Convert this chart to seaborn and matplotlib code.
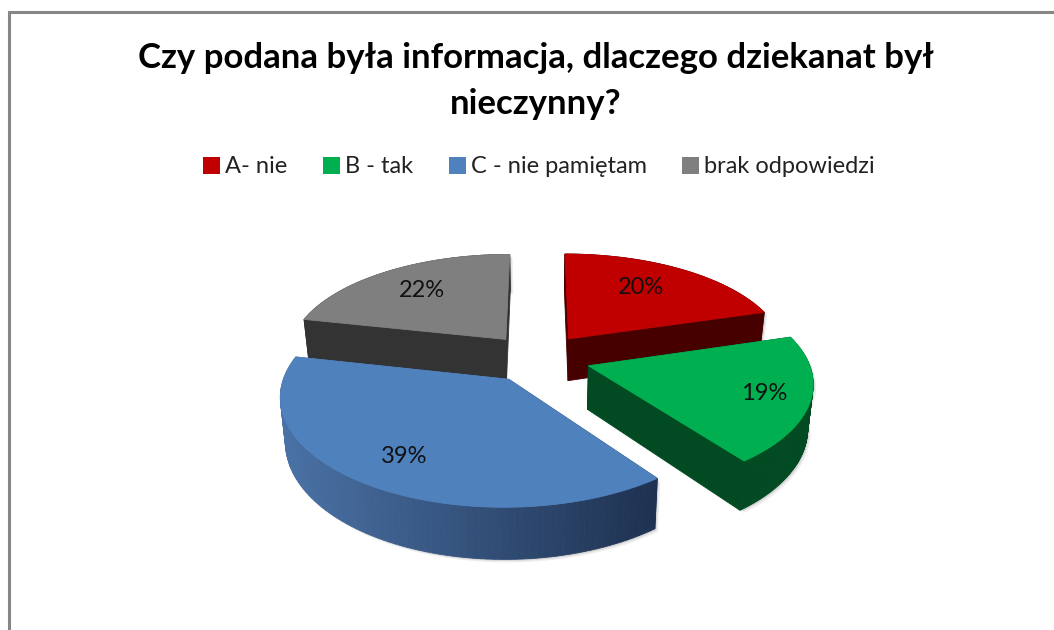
import numpy as np
import matplotlib
matplotlib.use('Agg')
import matplotlib.pyplot as plt
from matplotlib.patches import Polygon, Patch
import seaborn as sns

# dane z wykresu
title = 'Czy podana była informacja, dlaczego dziekanat był\nnieczynny?'
categories = ['A- nie', 'B - tak', 'C - nie pamiętam', 'brak odpowiedzi']
shares = [20.4, 19.4, 38.6, 21.6]
top_colors = ['#C00000', '#00B050', '#4F81BD', '#7F7F7F']
wall_left = ['#470000', '#014A22', '#4A72A6', '#333333']
wall_right = ['#470000', '#014A22', '#1E3150', '#333333']
label_frac = [0.72, 0.80, 0.72, 0.74]
label_nudge = [(-10, 0), (0, 0), (-6, 5), (6, 3)]

# geometria rzutu 3D
CX, CY = 538, 358
RX, RY = 219, 102.4
PX, PY = 0.14, 0.146
DEPTH = 43
EXPLODE = 0.24

sns.set_theme(style='white')
plt.rcParams['font.family'] = ['Lato', 'DejaVu Sans']


def project(u, v, drop=0.0):
    u, v = np.asarray(u, float), np.asarray(v, float)
    x = CX + RX * u / (1 + PX * v)
    y = CY - RY * v / (1 + PY * v)
    k = drop / (1 + PY * v)
    # dolna krawedz lekko zbiega do srodka
    return CX + (x - CX) * (1 - 0.02 * drop / DEPTH), y + k


def fill(ax, x, y, color, z):
    pts = np.column_stack([x, y])
    ax.add_patch(Polygon(pts, closed=True, fc=color, ec=color, lw=0.6, zorder=z))


fig = plt.figure(figsize=(10.54, 6.30), dpi=100)
ax = fig.add_axes([0, 0, 1, 1])
ax.set_xlim(0, 1054)
ax.set_ylim(630, 0)
ax.axis('off')

# ramka wykresu
ax.plot([8.5, 8.5, 1054], [630, 11.5, 11.5], color='#868686', lw=2.2,
        solid_joinstyle='miter', zorder=1)

edges = np.cumsum([0] + shares) / np.sum(shares) * 2 * np.pi
slices = []
for i in range(len(shares)):
    a0, a1 = edges[i], edges[i + 1]
    mid = (a0 + a1) / 2
    slices.append((i, a0, a1, mid, EXPLODE * np.sin(mid), EXPLODE * np.cos(mid)))

# od tylu do przodu
z = 2
for i, a0, a1, mid, ou, ov in sorted(slices, key=lambda s: -s[5]):
    t = np.linspace(a0, a1, 90)
    u = ou + np.sin(t)
    v = ov + np.cos(t)
    xt, yt = project(u, v)
    xb, yb = project(u, v, DEPTH)
    xa, ya = project(ou, ov)
    xc, yc = project(ou, ov, DEPTH)

    # miekki cien pod bokiem
    for off, alpha in [(3, 0.10), (1.5, 0.16)]:
        ax.add_patch(Polygon(np.column_stack([np.r_[xt, xb[::-1]] + off, np.r_[yt, yb[::-1]] + off]),
                             fc='#555555', ec='none', alpha=alpha, zorder=z))
    z += 1

    # sciany promieniowe
    for j in [0, -1]:
        fill(ax, [xa, xt[j], xb[j], xc], [ya, yt[j], yb[j], yc],
             wall_right[i] if j == 0 else wall_left[i], z)
        z += 1

    # sciana zewnetrzna z gradientem
    grad = sns.blend_palette([wall_left[i], wall_right[i]], 256)
    xmin, xmax = 280, 660
    for k in range(len(t) - 1):
        pos = np.clip((xt[k] - xmin) / (xmax - xmin), 0, 1)
        fill(ax, [xt[k], xt[k + 1], xb[k + 1], xb[k]], [yt[k], yt[k + 1], yb[k + 1], yb[k]],
             grad[int(pos * 255)], z)
    z += 1

    # wierzch
    fill(ax, np.r_[xa, xt], np.r_[ya, yt], top_colors[i], z)
    z += 1

# etykiety procentowe
for i, a0, a1, mid, ou, ov in slices:
    lx, ly = project(ou + label_frac[i] * np.sin(mid), ov + label_frac[i] * np.cos(mid))
    ax.text(lx + label_nudge[i][0], ly + label_nudge[i][1], f'{round(shares[i])}%', ha='center',
            va='center', fontsize=17, color='#111111', zorder=200)

ax.text(536, 81, title, ha='center', va='center', fontsize=25, fontweight='bold',
        color='black', linespacing=1.55, zorder=200)

handles = [Patch(fc=c, ec='none') for c in top_colors]
ax.legend(handles, categories, ncol=4, loc='center', bbox_to_anchor=(539 / 1054, 1 - 167 / 630),
          bbox_transform=fig.transFigure, frameon=False, fontsize=17, handlelength=0.72,
          handleheight=0.72, handletextpad=0.22, columnspacing=1.5, labelcolor='#222222')

fig.savefig('out.png', dpi=100)
plt.close(fig)
